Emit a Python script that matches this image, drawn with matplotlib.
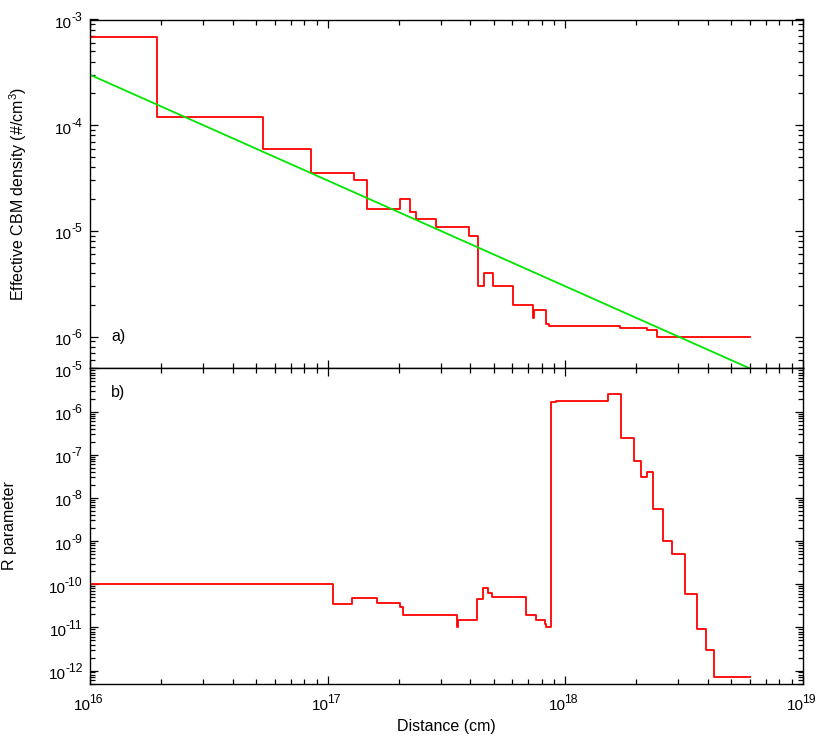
import numpy as np
import matplotlib
matplotlib.use("Agg")
import matplotlib.pyplot as plt
from matplotlib.ticker import LogLocator, NullFormatter
from matplotlib.transforms import blended_transform_factory, ScaledTranslation

plt.rcParams['font.family'] = ['Liberation Sans', 'DejaVu Sans']
plt.rcParams['mathtext.fontset'] = 'custom'
plt.rcParams['mathtext.rm'] = 'Liberation Sans'
plt.rcParams['mathtext.it'] = 'Liberation Sans:italic'
plt.rcParams['mathtext.default'] = 'regular'

# ---- data ----
density_edges = [1e16, 1.91e16, 5.33e16, 8.5e16, 1.29e17, 1.46e17, 2.02e17, 2.23e17,
                 2.36e17, 2.87e17, 3.93e17, 4.31e17, 4.54e17, 4.96e17, 6.04e17, 7.31e17,
                 7.43e17, 8.3e17, 8.6e17, 1.71e18, 2.22e18, 2.44e18, 6e18]
density_values = [6.8e-4, 1.2e-4, 6e-5, 3.5e-5, 3.0e-5, 1.6e-5, 2.0e-5, 1.5e-5, 1.3e-5,
                  1.1e-5, 9e-6, 3e-6, 4e-6, 3e-6, 2e-6, 1.5e-6, 1.8e-6, 1.32e-6, 1.25e-6,
                  1.21e-6, 1.15e-6, 1.0e-6]
fit_x = [1e16, 6e18]
fit_y = [3e-4, 5e-7]

r_edges = [1e16, 1.05e17, 1.27e17, 1.61e17, 2.02e17, 2.08e17, 3.50e17, 3.55e17, 4.28e17,
           4.5e17, 4.76e17, 4.93e17, 6.88e17, 7.57e17, 8.2e17, 8.3e17, 8.7e17, 9.2e17,
           1.51e18, 1.72e18, 1.95e18, 2.08e18, 2.22e18, 2.35e18, 2.58e18, 2.83e18, 3.2e18,
           3.61e18, 3.91e18, 4.25e18, 6e18]
r_values = [1e-10, 3.5e-11, 4.8e-11, 3.7e-11, 2.9e-11, 1.9e-11, 1.0e-11, 1.5e-11, 4.5e-11,
            8e-11, 6.2e-11, 5e-11, 1.9e-11, 1.5e-11, 1.2e-11, 1.0e-11, 1.65e-6, 1.8e-6,
            2.55e-6, 2.5e-7, 7.2e-8, 3.0e-8, 4.0e-8, 5.5e-9, 1.0e-9, 5e-10, 6e-11, 9e-12,
            3e-12, 7e-13]

W, H = 830, 739
FS = 11.5      # axis labels
BASE_FS = 11.0  # "10" of tick labels
SUP_FS = 8.8    # exponent of tick labels
fig = plt.figure(figsize=(W / 100, H / 100), dpi=100)
left = 90 / W
width = 712.5 / W
ax1 = fig.add_axes([left, 1 - 368.4 / H, width, (368.4 - 19.5) / H])
ax2 = fig.add_axes([left, 1 - 683.5 / H, width, (683.5 - 368.4) / H])

red = '#ff0000'
green = '#00e600'

ax1.step(density_edges, density_values + [density_values[-1]], where='post', color=red, lw=1.3)
ax1.plot(fit_x, fit_y, color=green, lw=1.3)
ax2.step(r_edges, r_values + [r_values[-1]], where='post', color=red, lw=1.3)

for ax in (ax1, ax2):
    ax.set_xscale('log')
    ax.set_yscale('log')
    ax.set_xlim(1e16, 1e19)
    ax.xaxis.set_major_locator(LogLocator(base=10, numticks=20))
    ax.xaxis.set_minor_locator(LogLocator(base=10, subs=np.arange(2, 10), numticks=100))
    ax.yaxis.set_major_locator(LogLocator(base=10, numticks=20))
    ax.yaxis.set_minor_locator(LogLocator(base=10, subs=np.arange(2, 10), numticks=100))
    ax.xaxis.set_minor_formatter(NullFormatter())
    ax.yaxis.set_minor_formatter(NullFormatter())
    ax.tick_params(which='both', direction='in', top=True, right=True,
                   labelleft=False, labelbottom=False, width=0.9)
    ax.tick_params(which='major', length=6)
    ax.tick_params(which='minor', length=3.5)
    for s in ax.spines.values():
        s.set_linewidth(1.0)

ax1.set_ylim(5e-7, 1e-3)
ax2.set_ylim(5e-13, 1e-5)

renderer = fig.canvas.get_renderer()


def text_width(s, size):
    t = fig.text(0, 0, s, fontsize=size)
    w = t.get_window_extent(renderer).width
    t.remove()
    return w


def off(ax, dx, dy):
    # dx, dy in pixels (dy positive = downward)
    return ScaledTranslation(dx / 100, -dy / 100, fig.dpi_scale_trans)


def exp_str(v):
    return str(int(round(np.log10(v)))).replace('-', '\u2010')


def y_labels(ax):
    lo, hi = ax.get_ylim()
    base = blended_transform_factory(ax.transAxes, ax.transData)
    for v in ax.get_yticks():
        if v < lo * 0.999 or v > hi * 1.001:
            continue
        e = exp_str(v)
        we = text_width(e, SUP_FS)
        ax.text(0, v, e, fontsize=SUP_FS, ha='right', va='baseline', clip_on=False,
                transform=base + off(ax, -7.5, 1.5))
        ax.text(0, v, '10', fontsize=BASE_FS, ha='right', va='baseline', clip_on=False,
                transform=base + off(ax, -7.5 - we + 0.5, 8.5))


def x_labels(ax):
    lo, hi = ax.get_xlim()
    base = blended_transform_factory(ax.transData, ax.transAxes)
    w10 = text_width('10', BASE_FS)
    for v in ax.get_xticks():
        if v < lo * 0.999 or v > hi * 1.001:
            continue
        e = exp_str(v)
        we = text_width(e, SUP_FS)
        start = -(w10 + we) / 2 - 0.5
        ax.text(v, 0, '10', fontsize=BASE_FS, ha='left', va='baseline', clip_on=False,
                transform=base + off(ax, start, 26.5))
        ax.text(v, 0, e, fontsize=SUP_FS, ha='left', va='baseline', clip_on=False,
                transform=base + off(ax, start + w10 - 2.0, 19.5))


y_labels(ax1)
y_labels(ax2)
x_labels(ax2)

ax1.set_ylabel('Effective CBM density (#/cm$^3$)', fontsize=FS)
ax1.yaxis.set_label_coords(-0.0856, 0.5)
ax2.set_ylabel('R parameter', fontsize=FS)
ax2.yaxis.set_label_coords(-0.1025, 0.5)
ax2.set_xlabel('Distance (cm)', fontsize=FS)
ax2.xaxis.set_label_coords(0.5, -0.113)

ax1.text(111 / W, 1 - 337 / H, 'a)', transform=fig.transFigure, fontsize=FS,
         va='center', ha='left')
ax2.text(111 / W, 1 - 392 / H, 'b)', transform=fig.transFigure, fontsize=FS,
         va='center', ha='left')

fig.savefig('out.png', dpi=100)
